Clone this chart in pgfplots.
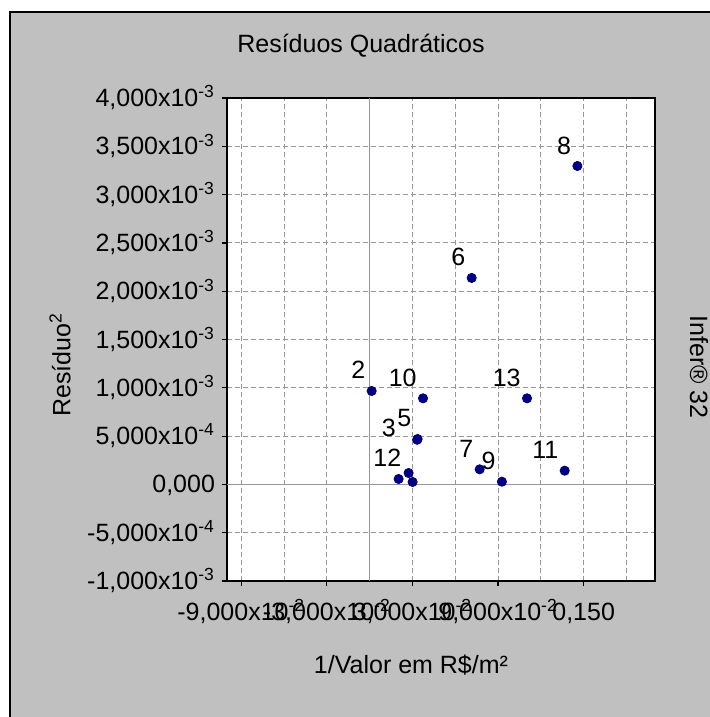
\documentclass[border=0pt]{standalone}
\usepackage{fontspec}
\setmainfont{Liberation Sans}
\usepackage{pgfplots}
\pgfplotsset{compat=1.18}
\definecolor{panel}{RGB}{192,192,192}
\definecolor{gridc}{RGB}{150,150,150}
\definecolor{pt}{RGB}{0,0,128}
\newcommand{\lf}{\fontsize{12.5bp}{15bp}\selectfont}
\begin{document}
\begin{tikzpicture}
\useasboundingbox (-113.5bp,-68bp) rectangle (241.5bp,290.5bp);
\fill[white] (-113.5bp,-68bp) rectangle (241.5bp,290.5bp);
\fill[panel] (-108.5bp,-68bp) rectangle (241.5bp,284.5bp);
\draw[black, line width=1bp] (-108.5bp,-68bp) -- (-108.5bp,284.5bp) -- (241.5bp,284.5bp);
\begin{axis}[
  at={(0,0)}, anchor=south west,
  scale only axis, width=214bp, height=241.5bp,
  xmin=-0.1, xmax=0.2, ymin=-0.001, ymax=0.004,
  axis background/.style={fill=white},
  axis line style={line width=1bp, black},
  scaled ticks=false,
  xtick={-0.09,-0.03,0.03,0.09,0.15},
  minor xtick={-0.06,0.06,0.12,0.18},
  xticklabels={{-9,000x10\textsuperscript{-2}},{-3,000x10\textsuperscript{-2}},{3,000x10\textsuperscript{-2}},{9,000x10\textsuperscript{-2}},{0,150}},
  ytick={-0.001,-0.0005,0,0.0005,0.001,0.0015,0.002,0.0025,0.003,0.0035,0.004},
  yticklabels={{-1,000x10\textsuperscript{-3}},{-5,000x10\textsuperscript{-4}},{0,000},{5,000x10\textsuperscript{-4}},{1,000x10\textsuperscript{-3}},{1,500x10\textsuperscript{-3}},{2,000x10\textsuperscript{-3}},{2,500x10\textsuperscript{-3}},{3,000x10\textsuperscript{-3}},{3,500x10\textsuperscript{-3}},{4,000x10\textsuperscript{-3}}},
  tick align=outside, xtick pos=left, ytick pos=left,
  major tick length=2.5bp, minor tick length=0pt,
  tick style={black, line width=0.6bp},
  grid=both,
  major grid style={gridc, dash pattern=on 2.5bp off 1.5bp, line width=0.5bp},
  minor grid style={gridc, dash pattern=on 2.5bp off 1.5bp, line width=0.5bp},
  extra x ticks={0}, extra x tick labels={},
  extra x tick style={grid=major, major grid style={gridc, solid, line width=0.6bp}, major tick length=0pt},
  extra y ticks={0}, extra y tick labels={},
  extra y tick style={grid=major, major grid style={gridc, solid, line width=0.6bp}, major tick length=0pt},
  tick label style={font=\lf, black},
  yticklabel style={anchor=base east, yshift=-4.25bp},
  xticklabel style={anchor=base, yshift=-17bp},
  every node near coord/.append style={font=\lf, black, anchor=base east, inner sep=0pt},
]
% labelled points, standard label offset
\addplot[only marks, mark=*, mark size=2.3bp, pt, point meta=explicit symbolic,
  nodes near coords, every node near coord/.append style={xshift=-3bp, yshift=6bp}]
  table[meta=lab] {
x y lab
0.0014 0.000967 2
0.0336 0.000470 5
0.0715 0.002137 6
0.0771 0.000156 7
0.1456 0.003296 8
0.0927 0.000028 9
0.0374 0.000891 10
0.1367 0.000142 11
0.1103 0.000891 13
};
% point 3
\addplot[only marks, mark=*, mark size=2.3bp, pt, point meta=explicit symbolic,
  nodes near coords, every node near coord/.append style={xshift=-10.5bp, yshift=1.5bp}]
  table[meta=lab] {
x y lab
0.0333 0.000462 3
};
% point 12
\addplot[only marks, mark=*, mark size=2.3bp, pt, point meta=explicit symbolic,
  nodes near coords, every node near coord/.append style={xshift=-5.5bp, yshift=7.5bp}]
  table[meta=lab] {
x y lab
0.0301 0.000025 12
};
% points 1 and 4 (labels hidden in the original)
\addplot[only marks, mark=*, mark size=2.3bp, pt] table {
x y
0.0203 0.000056
0.0273 0.000118
};
\end{axis}
\node[font=\lf, anchor=base] at (67bp,264bp) {Resíduos Quadráticos};
\node[font=\lf, anchor=base] at (92bp,-46bp) {1/Valor em R\$/m²};
\node[font=\lf, rotate=90] at (-83.5bp,108bp) {Resíduo\textsuperscript{2}};
\node[font=\lf, rotate=-90] at (236bp,107bp) {Infer® 32};
\end{tikzpicture}
\end{document}
